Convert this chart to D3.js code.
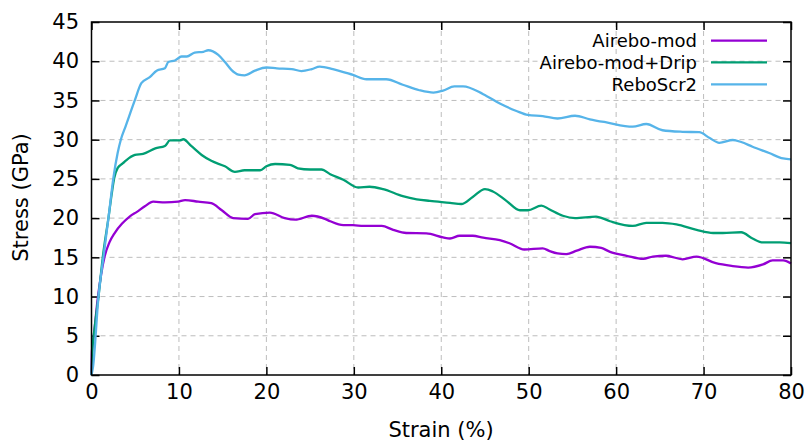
<!DOCTYPE html>
<html><head><meta charset="utf-8">
<script src="https://cdn.jsdelivr.net/npm/d3@7"></script>
<style>body{margin:0;background:#fff;} text{font-family:"DejaVu Sans",sans-serif;fill:#000;}</style>
</head><body><svg id="c" width="809" height="440"></svg>
<script>
const seriesNames = ["Airebo-mod", "Airebo-mod+Drip", "ReboScr2"];
const seriesColors = ["#9400d3", "#009e73", "#56b4e9"];
const xTicks = [0,10,20,30,40,50,60,70,80];
const yTicks = [0,5,10,15,20,25,30,35,40,45];

const airx = [0,0.05,0.29,0.74,1.1,1.5,2.05,2.65,3.5,4.36,5.2,6.1,7.06,8.4,9.9,10.7,12.2,13.7,14.9,16.2,17.9,18.7,20.4,22.1,23.3,25.2,26.7,27.3,28.8,29.9,31.1,33.2,34.5,36.0,38.3,40.2,41.0,42.1,43.6,44.8,46.7,47.8,49.5,51.6,52.4,53.3,54.3,55.5,57.0,58.3,59.3,61.2,63.1,64.2,65.7,67.6,69.2,71.4,73.2,75.1,76.8,77.9,79.1,80];
const airy = [0,3,5.3,10,12.8,15.1,16.9,18.1,19.3,20.2,20.8,21.5,22.1,22.0,22.1,22.3,22.1,21.9,21.0,20.0,19.9,20.5,20.7,20.0,19.8,20.3,19.9,19.6,19.1,19.1,19.0,19.0,18.5,18.1,18.05,17.55,17.4,17.75,17.75,17.5,17.2,16.8,16.0,16.15,15.8,15.5,15.4,15.85,16.35,16.2,15.7,15.2,14.8,15.1,15.2,14.75,15.1,14.25,13.9,13.7,14.1,14.6,14.6,14.2];

const dripx = [0,0.1,0.36,0.8,1.3,1.96,2.3,2.6,3.0,3.6,4.0,4.97,5.9,7.3,8.4,8.97,10.1,10.5,11.4,12.6,13.7,15.26,16.4,17.5,19.3,20.0,21.0,22.7,23.6,25.0,26.3,27.3,28.8,30.5,31.8,33.35,35.6,37.2,38.7,41.0,42.3,43.6,45.0,45.9,47.45,49.0,49.9,51.45,52.4,53.9,55.3,57.7,59.3,61.9,63.45,65.3,66.9,69.2,71.1,72.2,74.3,75.6,76.8,78.7,80];
const dripy = [0,3,6,10,15.1,20.2,23.0,25.1,26.4,27.0,27.4,28.05,28.2,28.9,29.2,29.9,29.9,30.05,29.2,28.05,27.3,26.6,25.9,26.1,26.1,26.6,26.9,26.8,26.35,26.2,26.2,25.6,24.9,23.9,24.0,23.7,22.8,22.4,22.2,21.95,21.8,22.7,23.7,23.4,22.2,21.0,21.0,21.6,21.1,20.3,20.0,20.2,19.6,19.0,19.4,19.4,19.2,18.5,18.1,18.1,18.2,17.4,16.9,16.9,16.8];

const rebox = [0,0.17,0.8,1.37,1.96,2.5,2.99,3.37,3.9,4.97,5.7,6.7,7.45,8.4,8.78,9.54,10.3,10.9,11.8,12.8,13.35,14.5,15.26,16.0,16.8,17.5,18.7,20.0,21.2,22.9,24.0,25.2,26.1,27.6,29.9,31.45,33.7,35.6,37.5,39.1,40.2,41.5,42.5,44.8,46.7,48.6,49.9,51.6,53.3,55.3,57.0,58.9,61.9,63.45,65.3,67.6,69.5,70.7,71.8,73.35,74.3,75.6,77.5,79.1,80];
const reboy = [0,1,10,15.1,20.2,25.1,28.3,30.05,31.7,35.06,37.2,38.0,38.8,39.1,39.9,40.1,40.6,40.6,41.1,41.2,41.4,40.8,39.9,38.9,38.3,38.2,38.8,39.2,39.1,39.0,38.75,39.0,39.3,39.0,38.25,37.7,37.7,37.0,36.3,36.0,36.25,36.8,36.8,35.8,34.6,33.66,33.15,33.0,32.7,33.05,32.6,32.2,31.65,32.0,31.2,31.0,30.95,30.2,29.6,29.96,29.7,29.1,28.3,27.6,27.5];

const seriesX = [airx, dripx, rebox];
const seriesY = [airy, dripy, reboy];

const L = 91.5, R = 791, T = 22, B = 375;
const svg = d3.select("#c");
const x = d3.scaleLinear().domain([0,80]).range([L,R]);
const y = d3.scaleLinear().domain([0,45]).range([B,T]);

// grid
const g = svg.append("g");
g.selectAll("line.gx").data(xTicks.slice(1,-1)).enter().append("line")
  .attr("x1",d=>x(d)).attr("x2",d=>x(d)).attr("y1",T).attr("y2",B)
  .attr("stroke","#bdbdbd").attr("stroke-width",1).attr("stroke-dasharray","5,4");
g.selectAll("line.gy").data(yTicks.slice(1,-1)).enter().append("line")
  .attr("y1",d=>y(d)).attr("y2",d=>y(d)).attr("x1",L).attr("x2",R)
  .attr("stroke","#bdbdbd").attr("stroke-width",1).attr("stroke-dasharray","5,4");

// axes
const fs = "21px";
const ax = svg.append("g").attr("transform",`translate(0,${B})`)
  .call(d3.axisBottom(x).tickValues(xTicks).tickSize(-8).tickPadding(13));
const ay = svg.append("g").attr("transform",`translate(${L},0)`)
  .call(d3.axisLeft(y).tickValues(yTicks).tickSize(-8).tickPadding(13));
const at = svg.append("g").attr("transform",`translate(0,${T})`)
  .call(d3.axisTop(x).tickValues(xTicks).tickSize(-8).tickFormat(""));
const ar = svg.append("g").attr("transform",`translate(${R},0)`)
  .call(d3.axisRight(y).tickValues(yTicks).tickSize(-8).tickFormat(""));
[ax,ay,at,ar].forEach(a=>{
  a.select(".domain").remove();
  a.selectAll(".tick line").attr("stroke","#000").attr("stroke-width",1.5);
  a.selectAll(".tick text").style("font-size",fs).style("font-family","DejaVu Sans");
});
ax.selectAll(".tick text").attr("dy","0.71em").attr("y",9);
ay.selectAll(".tick text").attr("x",-12.5);

// lines
const line = d3.line().x(d=>x(d[0])).y(d=>y(d[1])).curve(d3.curveMonotoneX);
seriesNames.forEach((n,i)=>{
  const pts = seriesX[i].map((v,j)=>[v, seriesY[i][j]]);
  svg.append("path").datum(pts).attr("d",line)
    .attr("fill","none").attr("stroke",seriesColors[i]).attr("stroke-width",2.3)
    .attr("stroke-linejoin","round");
});

// border
svg.append("rect").attr("x",L).attr("y",T).attr("width",R-L).attr("height",B-T)
  .attr("fill","none").attr("stroke","#000").attr("stroke-width",1.5);

// legend
const legY = [40.7, 62.3, 84.3];
seriesNames.forEach((n,i)=>{
  svg.append("text").attr("x",697).attr("y",legY[i]).attr("dy","0.35em")
    .attr("text-anchor","end").style("font-size","18px").text(n);
  svg.append("line").attr("x1",711).attr("x2",767).attr("y1",legY[i]).attr("y2",legY[i])
    .attr("stroke",seriesColors[i]).attr("stroke-width",2.3);
});

// axis titles
svg.append("text").attr("x",441).attr("y",436.5).attr("text-anchor","middle")
  .style("font-size","21px").text("Strain (%)");
svg.append("text").attr("transform","translate(27.5,197.5) rotate(-90)")
  .attr("text-anchor","middle").style("font-size","21px").text("Stress (GPa)");
</script></body></html>
